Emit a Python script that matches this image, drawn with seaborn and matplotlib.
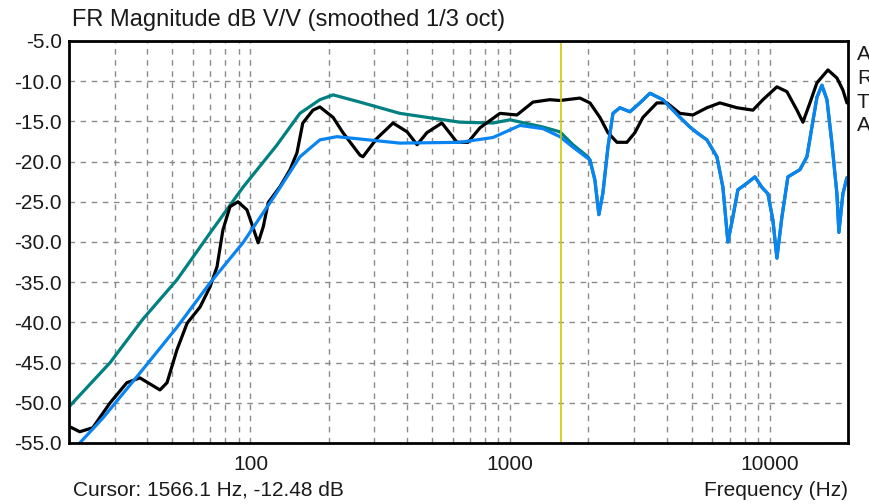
import numpy as np
import pandas as pd
import seaborn as sns
import matplotlib.pyplot as plt
from matplotlib.ticker import FixedLocator, NullFormatter

# black trace
black_freq = [20.2, 22.0, 24.7, 28.8, 33.4, 37.5, 44.8, 47.7, 52.1, 57.0,
              63.9, 69.8, 74.3, 78.3, 83.4, 89.5, 96.9, 102, 107, 112, 117, 130, 142,
              151, 159, 174, 185, 208, 227, 264, 271, 307, 354, 401, 438, 478, 546, 624,
              688, 765, 913, 1062, 1224, 1422, 1555, 1856, 2029, 2216, 2380, 2578, 2816,
              3022, 3246, 3674, 4014, 4506, 5056, 5724, 6422, 7468, 8606, 9406, 10648,
              11634, 12718, 13410, 14270, 15184, 16742, 18126, 19116, 19808]
black_db = [-53.0, -53.6, -53.1, -50.0, -47.5, -46.9, -48.4, -47.5, -43.4, -40.1,
            -38.1, -35.6, -33.1, -28.5, -25.6, -25.0, -26.0, -28.1, -30.1, -28.1, -25.1, -23.1, -21.0,
            -18.9, -15.2, -13.6, -13.2, -14.5, -16.4, -19.2, -19.4, -17.1, -15.2, -16.3, -17.9, -16.4, -15.2, -17.6,
            -17.6, -15.8, -14.0, -14.2, -12.6, -12.3, -12.4, -12.1, -12.7, -14.5, -16.4, -17.6, -17.6,
            -16.4, -14.5, -12.7, -12.7, -14.0, -14.2, -13.3, -12.7, -13.3, -13.6, -12.3, -10.7,
            -11.3, -13.6, -15.1, -12.7, -10.2, -8.6, -9.6, -11.1, -12.7]

# blue trace
blue_freq = [22.0, 27.0, 37.5, 52.1, 69.8, 93.5, 126, 155, 185, 215, 248, 376, 641, 859,
             1091, 1337, 1555, 1745, 2029, 2120, 2196, 2276, 2380, 2488, 2646, 2892, 3160,
             3454, 3876, 4506, 4924, 5238, 5724, 6254, 6596, 6894, 7206, 7534, 8160, 8760,
             9324, 9832, 10278, 10648, 11130, 11738, 13058, 13894, 14522, 15184, 15872,
             16594, 17338, 18126, 18450, 19116, 19808]
blue_db = [-55.0, -51.9, -46.3, -40.6, -35.1, -30.1, -23.9, -19.4, -17.3, -16.9, -17.1, -17.7, -17.6, -17.0,
           -15.5, -15.9, -16.9, -18.2, -19.8, -22.3, -26.6, -23.9, -18.2, -14.0, -13.3, -13.8, -12.7,
           -11.5, -12.3, -14.5, -15.7, -16.4, -17.3, -19.4, -23.2, -30.0, -26.9, -23.5, -22.7, -21.9,
           -23.2, -24.0, -27.3, -32.0, -26.9, -21.9, -21.0, -19.4, -15.7, -12.0, -10.5,
           -12.3, -17.7, -24.0, -28.8, -24.0, -22.0]

# teal trace (below 2 kHz; above that it sits under the blue one)
teal_freq = [20.0, 28.8, 38.5, 52.1, 69.8, 93.5, 126, 155, 185, 208, 264, 376, 641, 859,
             998, 1337, 1555, 1745, 1992]
teal_db = [-50.5, -45.0, -39.6, -34.7, -28.9, -23.2, -18.0, -14.0, -12.3, -11.7, -12.6, -14.0, -15.1, -15.2,
           -14.8, -15.7, -16.3, -17.9, -19.4]

cursor_hz = 1566.1
cursor_db = -12.48
legend_letters = ["A", "R", "T", "A"]
y_ticks = [-55, -50, -45, -40, -35, -30, -25, -20, -15, -10, -5]

sns.set_style("white")
plt.rcParams['font.family'] = ['Liberation Sans', 'DejaVu Sans']

fig = plt.figure(figsize=(8.7, 5.04), dpi=100)
ax = fig.add_axes([69 / 870, 61 / 504, 779 / 870, 402 / 504])

teal_all = pd.DataFrame({
    "freq": teal_freq + [f for f in blue_freq if f > 2000],
    "db": teal_db + [d for f, d in zip(blue_freq, blue_db) if f > 2000],
})
sns.lineplot(data=teal_all, x="freq", y="db", ax=ax, color="#008080", lw=2.3,
             estimator=None, sort=False)
sns.lineplot(x=black_freq, y=black_db, ax=ax, color="black", lw=2.3,
             estimator=None, sort=False)
sns.lineplot(x=blue_freq, y=blue_db, ax=ax, color="#0A84F0", lw=2.3,
             estimator=None, sort=False)
ax.axvline(cursor_hz, color="#CCCC00", lw=1.2)

ax.set_xscale("log")
ax.set_xlim(20, 20000)
ax.set_ylim(-55, -5)
ax.set_xticks([100, 1000, 10000])
ax.set_xticklabels(["100", "1000", "10000"])
ax.xaxis.set_minor_locator(FixedLocator(
    [m * 10 ** e for e in range(1, 5) for m in range(2, 10) if 20 < m * 10 ** e < 20000]))
ax.xaxis.set_minor_formatter(NullFormatter())
ax.set_yticks(y_ticks)
ax.set_yticklabels([f"{v:.1f}" for v in y_ticks])

grid_kw = dict(color="#8a8a8a", lw=1, linestyle=(0, (4, 4)))
ax.grid(which="major", axis="both", **grid_kw)
ax.grid(which="minor", axis="x", **grid_kw)
ax.set_axisbelow(True)
ax.tick_params(axis="both", which="both", length=0, labelsize=15, colors="#1a1a1a")
ax.tick_params(axis="y", pad=5)
ax.tick_params(axis="x", pad=9)
for s in ax.spines.values():
    s.set_color("black")
    s.set_linewidth(2)
ax.set_xlabel("")
ax.set_ylabel("")

fig.text(72 / 870, 1 - 20 / 504, "FR Magnitude dB V/V (smoothed 1/3 oct)",
         fontsize=17, va="center", ha="left", color="#1a1a1a")
fig.text(73 / 870, 1 - 490 / 504, f"Cursor: {cursor_hz} Hz, {cursor_db} dB",
         fontsize=15, va="center", ha="left", color="#1a1a1a")
fig.text(848 / 870, 1 - 490 / 504, "Frequency (Hz)",
         fontsize=15, va="center", ha="right", color="#1a1a1a")
for i, letter in enumerate(legend_letters):
    fig.text(857 / 870, 1 - (55 + 23.5 * i) / 504, letter,
             fontsize=15, va="center", ha="left", color="#1a1a1a")

fig.savefig("out.png", dpi=100)
